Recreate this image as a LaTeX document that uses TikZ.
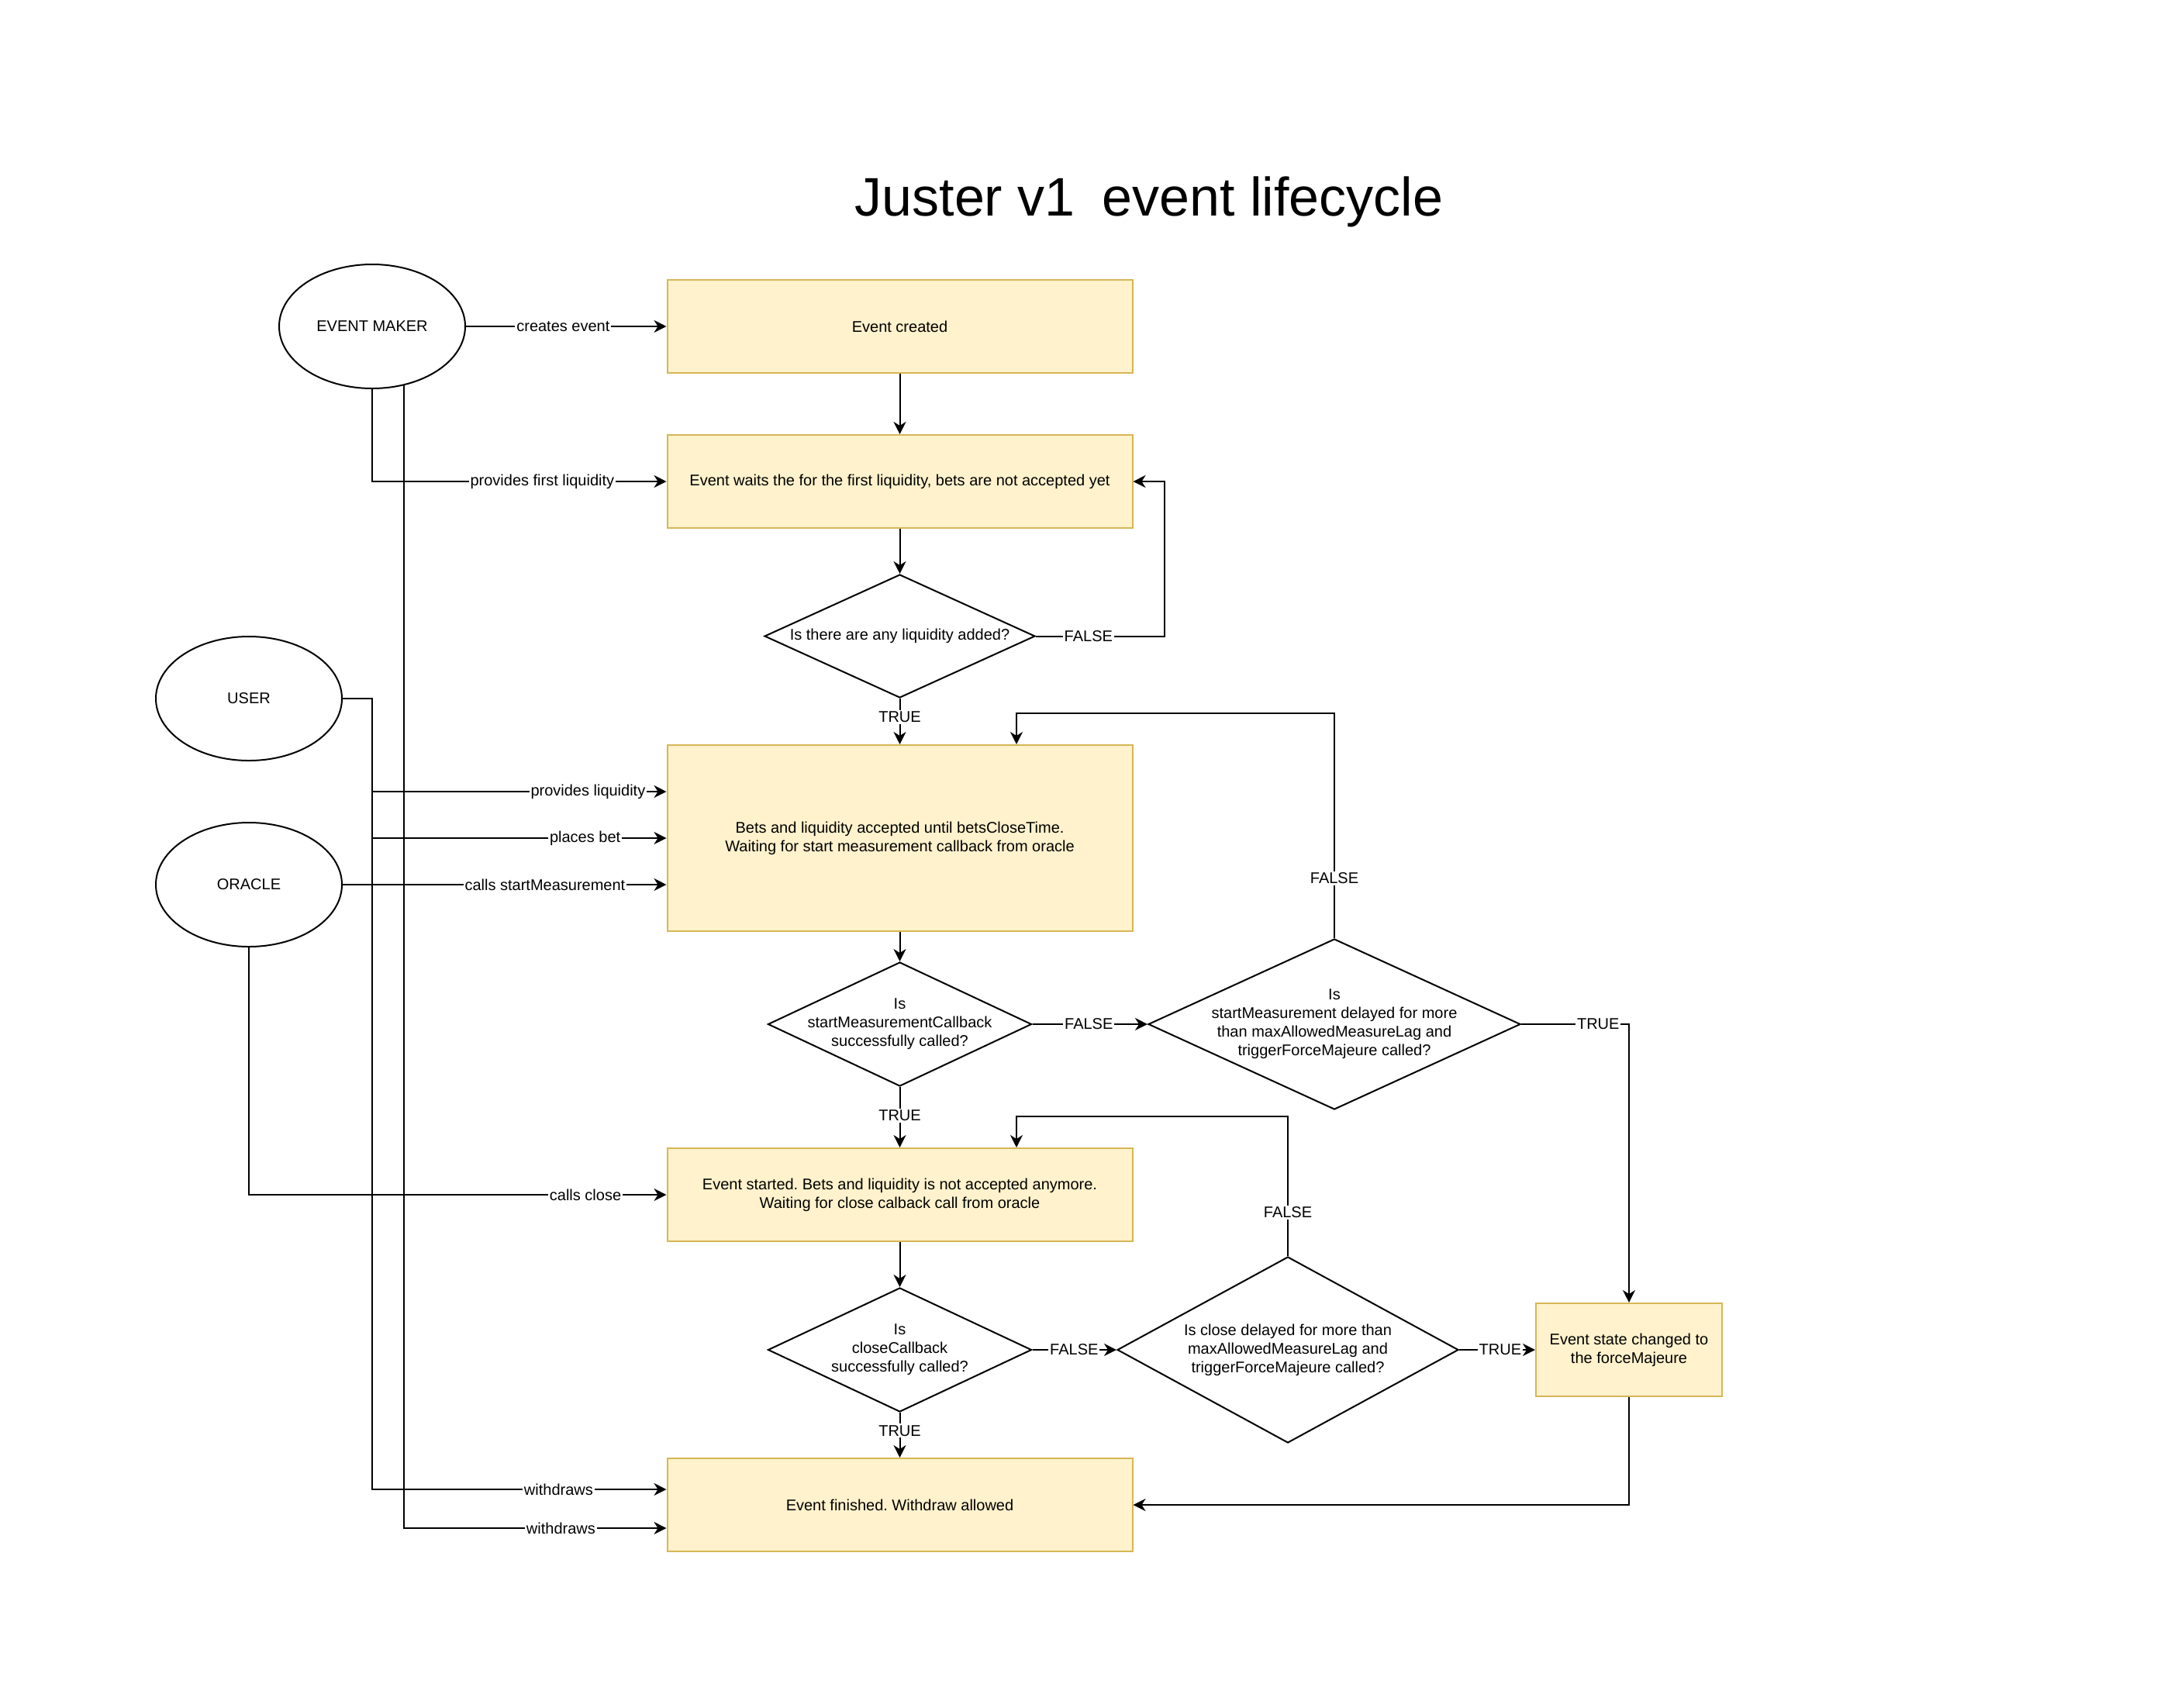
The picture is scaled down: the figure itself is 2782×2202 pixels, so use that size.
\documentclass[tikz,border=0pt]{standalone}
\usepackage{fontspec}
\setmainfont{Liberation Sans}
\usetikzlibrary{shapes.geometric,arrows.meta,calc}
\definecolor{boxfill}{HTML}{FFF2CC}
\definecolor{boxline}{HTML}{D6B656}
\frenchspacing
\begin{document}
\begin{tikzpicture}[x=0.5pt,y=-0.5pt,
  every node/.style={font=\fontsize{10pt}{12pt}\selectfont},
  actor/.style={ellipse,draw=black,line width=1pt,minimum width=120pt,minimum height=80pt,inner sep=0pt,fill=white},
  statebox/.style={rectangle,draw=boxline,fill=boxfill,line width=1pt,minimum width=300pt,minimum height=60pt,align=center,inner sep=0pt},
  decision/.style={diamond,draw=black,line width=1pt,inner sep=0pt,fill=white},
  dtext/.style={align=center,inner sep=0pt},
  conn/.style={line width=1pt,-{Stealth[length=8pt,width=8pt,inset=2.5pt]}},
  lbl/.style={fill=white,inner sep=1pt}
]
\useasboundingbox (0,0) rectangle (2782,2202);

% title
\node[font=\fontsize{35pt}{42pt}\selectfont, anchor=base, inner sep=0pt] (title) at (1482,278) {Juster v1\hspace{0.5em}event lifecycle};

% actors
\node[actor] (em) at (480,421) {EVENT MAKER};
\node[actor] (user) at (321,901) {USER};
\node[actor] (oracle) at (321,1141) {ORACLE};

% states and decisions
\node[statebox] (b1) at (1160.5,421) {Event created};
\node[statebox] (b2) at (1160.5,621) {Event waits the for the first liquidity, bets are not accepted yet};
\node[decision, minimum width=174.5pt, minimum height=79.5pt] (d1) at (1160.5,820.5) {};
\node[dtext] (d1t) at (d1.center) {Is there are any liquidity added?};
\node[statebox, minimum height=120pt] (b3) at (1160.5,1081) {Bets and liquidity accepted until betsCloseTime.\\Waiting for start measurement callback from oracle};
\node[decision, minimum width=170pt, minimum height=80pt] (d2) at (1160.5,1321) {};
\node[dtext] (d2t) at (d2.center) {Is\\startMeasurementCallback\\successfully called?};
\node[decision, minimum width=240pt, minimum height=110pt] (d3) at (1721,1321) {};
\node[dtext] (d3t) at (d3.center) {Is\\startMeasurement delayed for more\\than maxAllowedMeasureLag and\\triggerForceMajeure called?};
\node[statebox] (b4) at (1160.5,1541) {Event started. Bets and liquidity is not accepted anymore.\\Waiting for close calback call from oracle};
\node[decision, minimum width=170pt, minimum height=80pt] (d4) at (1160.5,1741) {};
\node[dtext] (d4t) at (d4.center) {Is\\closeCallback\\successfully called?};
\node[decision, minimum width=220pt, minimum height=120pt] (d5) at (1661,1741) {};
\node[dtext] (d5t) at (d5.center) {Is close delayed for more than\\maxAllowedMeasureLag and\\triggerForceMajeure called?};
\node[statebox, minimum width=120pt] (fm) at (2101,1741) {Event state changed to\\the forceMajeure};
\node[statebox] (b5) at (1160.5,1941) {Event finished. Withdraw allowed};

% actor connectors
\draw[conn] (em.east) -- node[lbl,pos=0.485]{creates event} (b1.west);
\draw[conn] (em.south) |- node[lbl,pos=0.789]{provides first liquidity} (b2.west);
\coordinate (emdrop) at ($(em.center)+(41,75.2)$);
\draw[conn] (emdrop) |- node[lbl,pos=0.799]{withdraws} ($(b5.west)+(0,30)$);
\draw[conn] (user.east) -| ($(b3.west)+(-380,-60)$) -- node[lbl,pos=0.734]{provides liquidity} ($(b3.west)+(0,-60)$);
\draw[conn] (user.east) -| ($(b3.west)+(-380,0)$) -- node[lbl,pos=0.724]{places bet} (b3.west);
\draw[conn] (user.east) -| ($(b5.west)+(-380,-20)$) -- node[lbl,pos=0.634]{withdraws} ($(b5.west)+(0,-20)$);
\draw[conn] (oracle.east) -- node[lbl,pos=0.625]{calls startMeasurement\ } ($(b3.west)+(0,60)$);
\draw[conn] (oracle.south) |- node[lbl,pos=0.903]{calls close} (b4.west);

% flow connectors
\draw[conn] (b1.south) -- (b2.north);
\draw[conn] (b2.south) -- (d1.north);
\draw[conn] (d1.east) -| node[lbl,pos=0.205]{FALSE} ($(b2.east)+(40,0)$) -- (b2.east);
\draw[conn] (d1.south) -- node[lbl,pos=0.41]{TRUE} (b3.north);
\draw[conn] (b3.south) -- (d2.north);
\draw[conn] (d2.east) -- node[lbl,pos=0.49]{FALSE} (d3.west);
\draw[conn] (d3.north) |- node[lbl,pos=0.133]{FALSE} ($(b3.north)+(150.5,-40)$) -- ($(b3.north)+(150.5,0)$);
\draw[conn] (d3.east) -| node[lbl,pos=0.357]{TRUE} (fm.north);
\draw[conn] (d2.south) -- node[lbl,pos=0.475]{TRUE} (b4.north);
\draw[conn] (b4.south) -- (d4.north);
\draw[conn] (d4.east) -- node[lbl,pos=0.496]{FALSE} (d5.west);
\draw[conn] (d5.north) |- node[lbl,pos=0.156]{FALSE} ($(b4.north)+(150.5,-40)$) -- ($(b4.north)+(150.5,0)$);
\draw[conn] (d5.east) -- node[lbl,pos=0.54]{TRUE} (fm.west);
\draw[conn] (d4.south) -- node[lbl,pos=0.4]{TRUE} (b5.north);
\draw[conn] (fm.south) |- (b5.east);
\end{tikzpicture}
\end{document}
